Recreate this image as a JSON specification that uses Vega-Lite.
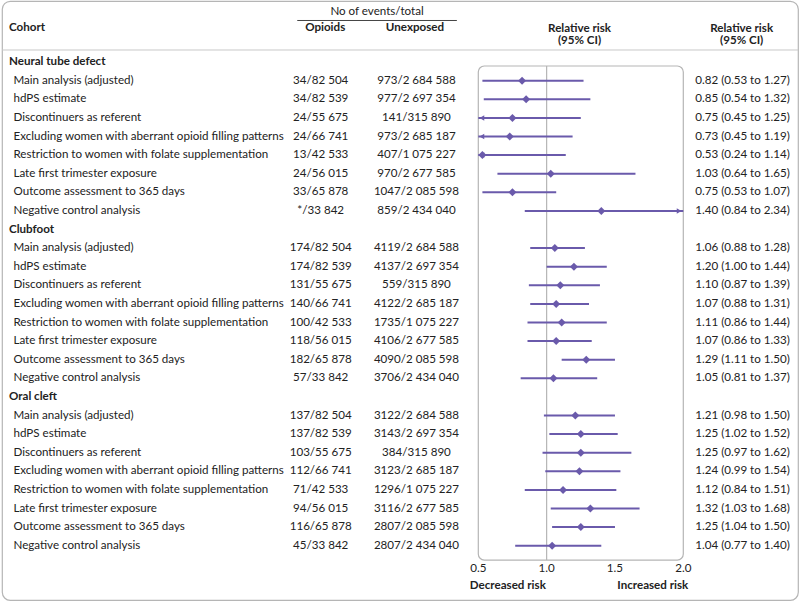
{
  "$schema": "https://vega.github.io/schema/vega-lite/v6.json",
  "width": 800,
  "height": 601,
  "autosize": {"type": "fit", "contains": "padding"},
  "padding": 1,
  "background": "white",
  "config": {
    "view": {"stroke": "#b5b5b5", "strokeWidth": 1.2, "cornerRadius": 8},
    "font": "Lato",
    "text": {"fontSize": 11.6, "color": "#222222"}
  },
  "datasets": {
    "rows": [
      {"row": 0, "kind": "group", "label": "Neural tube defect"},
      {"row": 1, "kind": "item", "label": "Main analysis (adjusted)", "opioids": "34/82 504", "unexposed": "973/2 684 588", "rr": 0.82, "lo": 0.53, "hi": 1.27, "rrtext": "0.82 (0.53 to 1.27)"},
      {"row": 2, "kind": "item", "label": "hdPS estimate", "opioids": "34/82 539", "unexposed": "977/2 697 354", "rr": 0.85, "lo": 0.54, "hi": 1.32, "rrtext": "0.85 (0.54 to 1.32)"},
      {"row": 3, "kind": "item", "label": "Discontinuers as referent", "opioids": "24/55 675", "unexposed": "141/315 890", "rr": 0.75, "lo": 0.45, "hi": 1.25, "rrtext": "0.75 (0.45 to 1.25)"},
      {"row": 4, "kind": "item", "label": "Excluding women with aberrant opioid filling patterns", "opioids": "24/66 741", "unexposed": "973/2 685 187", "rr": 0.73, "lo": 0.45, "hi": 1.19, "rrtext": "0.73 (0.45 to 1.19)"},
      {"row": 5, "kind": "item", "label": "Restriction to women with folate supplementation", "opioids": "13/42 533", "unexposed": "407/1 075 227", "rr": 0.53, "lo": 0.24, "hi": 1.14, "rrtext": "0.53 (0.24 to 1.14)"},
      {"row": 6, "kind": "item", "label": "Late first trimester exposure", "opioids": "24/56 015", "unexposed": "970/2 677 585", "rr": 1.03, "lo": 0.64, "hi": 1.65, "rrtext": "1.03 (0.64 to 1.65)"},
      {"row": 7, "kind": "item", "label": "Outcome assessment to 365 days", "opioids": "33/65 878", "unexposed": "1047/2 085 598", "rr": 0.75, "lo": 0.53, "hi": 1.07, "rrtext": "0.75 (0.53 to 1.07)"},
      {"row": 8, "kind": "item", "label": "Negative control analysis", "opioids": "*/33 842", "unexposed": "859/2 434 040", "rr": 1.40, "lo": 0.84, "hi": 2.34, "rrtext": "1.40 (0.84 to 2.34)"},
      {"row": 9, "kind": "group", "label": "Clubfoot"},
      {"row": 10, "kind": "item", "label": "Main analysis (adjusted)", "opioids": "174/82 504", "unexposed": "4119/2 684 588", "rr": 1.06, "lo": 0.88, "hi": 1.28, "rrtext": "1.06 (0.88 to 1.28)"},
      {"row": 11, "kind": "item", "label": "hdPS estimate", "opioids": "174/82 539", "unexposed": "4137/2 697 354", "rr": 1.20, "lo": 1.00, "hi": 1.44, "rrtext": "1.20 (1.00 to 1.44)"},
      {"row": 12, "kind": "item", "label": "Discontinuers as referent", "opioids": "131/55 675", "unexposed": "559/315 890", "rr": 1.10, "lo": 0.87, "hi": 1.39, "rrtext": "1.10 (0.87 to 1.39)"},
      {"row": 13, "kind": "item", "label": "Excluding women with aberrant opioid filling patterns", "opioids": "140/66 741", "unexposed": "4122/2 685 187", "rr": 1.07, "lo": 0.88, "hi": 1.31, "rrtext": "1.07 (0.88 to 1.31)"},
      {"row": 14, "kind": "item", "label": "Restriction to women with folate supplementation", "opioids": "100/42 533", "unexposed": "1735/1 075 227", "rr": 1.11, "lo": 0.86, "hi": 1.44, "rrtext": "1.11 (0.86 to 1.44)"},
      {"row": 15, "kind": "item", "label": "Late first trimester exposure", "opioids": "118/56 015", "unexposed": "4106/2 677 585", "rr": 1.07, "lo": 0.86, "hi": 1.33, "rrtext": "1.07 (0.86 to 1.33)"},
      {"row": 16, "kind": "item", "label": "Outcome assessment to 365 days", "opioids": "182/65 878", "unexposed": "4090/2 085 598", "rr": 1.29, "lo": 1.11, "hi": 1.50, "rrtext": "1.29 (1.11 to 1.50)"},
      {"row": 17, "kind": "item", "label": "Negative control analysis", "opioids": "57/33 842", "unexposed": "3706/2 434 040", "rr": 1.05, "lo": 0.81, "hi": 1.37, "rrtext": "1.05 (0.81 to 1.37)"},
      {"row": 18, "kind": "group", "label": "Oral cleft"},
      {"row": 19, "kind": "item", "label": "Main analysis (adjusted)", "opioids": "137/82 504", "unexposed": "3122/2 684 588", "rr": 1.21, "lo": 0.98, "hi": 1.50, "rrtext": "1.21 (0.98 to 1.50)"},
      {"row": 20, "kind": "item", "label": "hdPS estimate", "opioids": "137/82 539", "unexposed": "3143/2 697 354", "rr": 1.25, "lo": 1.02, "hi": 1.52, "rrtext": "1.25 (1.02 to 1.52)"},
      {"row": 21, "kind": "item", "label": "Discontinuers as referent", "opioids": "103/55 675", "unexposed": "384/315 890", "rr": 1.25, "lo": 0.97, "hi": 1.62, "rrtext": "1.25 (0.97 to 1.62)"},
      {"row": 22, "kind": "item", "label": "Excluding women with aberrant opioid filling patterns", "opioids": "112/66 741", "unexposed": "3123/2 685 187", "rr": 1.24, "lo": 0.99, "hi": 1.54, "rrtext": "1.24 (0.99 to 1.54)"},
      {"row": 23, "kind": "item", "label": "Restriction to women with folate supplementation", "opioids": "71/42 533", "unexposed": "1296/1 075 227", "rr": 1.12, "lo": 0.84, "hi": 1.51, "rrtext": "1.12 (0.84 to 1.51)"},
      {"row": 24, "kind": "item", "label": "Late first trimester exposure", "opioids": "94/56 015", "unexposed": "3116/2 677 585", "rr": 1.32, "lo": 1.03, "hi": 1.68, "rrtext": "1.32 (1.03 to 1.68)"},
      {"row": 25, "kind": "item", "label": "Outcome assessment to 365 days", "opioids": "116/65 878", "unexposed": "2807/2 085 598", "rr": 1.25, "lo": 1.04, "hi": 1.50, "rrtext": "1.25 (1.04 to 1.50)"},
      {"row": 26, "kind": "item", "label": "Negative control analysis", "opioids": "45/33 842", "unexposed": "2807/2 434 040", "rr": 1.04, "lo": 0.77, "hi": 1.40, "rrtext": "1.04 (0.77 to 1.40)"}
    ],
    "one": [{}],
    "ticks": [{"t": 0.5}, {"t": 1.0}, {"t": 1.5}, {"t": 2.0}]
  },
  "data": {"name": "rows"},
  "resolve": {"scale": {"x": "independent"}},
  "layer": [
    {
      "layer": [
        {
          "data": {"name": "one"},
          "mark": {"type": "rule", "color": "#c8c8c8", "strokeWidth": 1},
          "encoding": {
            "y": {"datum": -0.651, "type": "quantitative", "scale": {"domain": [-3.285, 28.919], "reverse": true, "nice": false, "zero": false}, "axis": null}
          }
        },
        {
          "data": {"name": "one"},
          "mark": {"type": "rule", "color": "#444444", "strokeWidth": 1},
          "encoding": {
            "x": {"datum": 296, "type": "quantitative", "scale": {"domain": [0, 798], "nice": false, "zero": false}, "axis": null},
            "x2": {"datum": 456},
            "y": {"datum": -2.237, "type": "quantitative", "axis": null}
          }
        },
        {
          "data": {"name": "one"},
          "mark": {"type": "text", "align": "center"},
          "encoding": {
            "x": {"datum": 376, "type": "quantitative", "axis": null},
            "y": {"datum": -2.694, "type": "quantitative", "axis": null},
            "text": {"value": "No of events/total"}
          }
        },
        {
          "data": {"name": "one"},
          "mark": {"type": "text", "align": "left", "fontWeight": "bold"},
          "encoding": {
            "x": {"datum": 7, "type": "quantitative", "axis": null},
            "y": {"datum": -1.833, "type": "quantitative", "axis": null},
            "text": {"value": "Cohort"}
          }
        },
        {
          "data": {"name": "one"},
          "mark": {"type": "text", "align": "center", "fontWeight": "bold"},
          "encoding": {
            "x": {"datum": 324, "type": "quantitative", "axis": null},
            "y": {"datum": -1.833, "type": "quantitative", "axis": null},
            "text": {"value": "Opioids"}
          }
        },
        {
          "data": {"name": "one"},
          "mark": {"type": "text", "align": "center", "fontWeight": "bold"},
          "encoding": {
            "x": {"datum": 414, "type": "quantitative", "axis": null},
            "y": {"datum": -1.833, "type": "quantitative", "axis": null},
            "text": {"value": "Unexposed"}
          }
        },
        {
          "data": {"name": "one"},
          "mark": {"type": "text", "align": "center", "fontWeight": "bold", "lineHeight": 12.6},
          "encoding": {
            "x": {"datum": 579, "type": "quantitative", "axis": null},
            "y": {"datum": -1.8, "type": "quantitative", "axis": null},
            "text": {"value": ["Relative risk", "(95% CI)"]}
          }
        },
        {
          "data": {"name": "one"},
          "mark": {"type": "text", "align": "center", "fontWeight": "bold", "lineHeight": 12.6},
          "encoding": {
            "x": {"datum": 741.5, "type": "quantitative", "axis": null},
            "y": {"datum": -1.8, "type": "quantitative", "axis": null},
            "text": {"value": ["Relative risk", "(95% CI)"]}
          }
        },
        {
          "transform": [{"filter": "datum.kind == 'group'"}],
          "mark": {"type": "text", "align": "left", "fontWeight": "bold"},
          "encoding": {
            "x": {"datum": 7, "type": "quantitative", "axis": null},
            "y": {"field": "row", "type": "quantitative", "axis": null},
            "text": {"field": "label"}
          }
        },
        {
          "transform": [{"filter": "datum.kind == 'item'"}],
          "mark": {"type": "text", "align": "left"},
          "encoding": {
            "x": {"datum": 11.5, "type": "quantitative", "axis": null},
            "y": {"field": "row", "type": "quantitative", "axis": null},
            "text": {"field": "label"}
          }
        },
        {
          "transform": [{"filter": "datum.kind == 'item'"}],
          "mark": {"type": "text", "align": "center"},
          "encoding": {
            "x": {"datum": 319.5, "type": "quantitative", "axis": null},
            "y": {"field": "row", "type": "quantitative", "axis": null},
            "text": {"field": "opioids"}
          }
        },
        {
          "transform": [{"filter": "datum.kind == 'item'"}],
          "mark": {"type": "text", "align": "center"},
          "encoding": {
            "x": {"datum": 415.5, "type": "quantitative", "axis": null},
            "y": {"field": "row", "type": "quantitative", "axis": null},
            "text": {"field": "unexposed"}
          }
        },
        {
          "transform": [{"filter": "datum.kind == 'item'"}],
          "mark": {"type": "text", "align": "left"},
          "encoding": {
            "x": {"datum": 695, "type": "quantitative", "axis": null},
            "y": {"field": "row", "type": "quantitative", "axis": null},
            "text": {"field": "rrtext"}
          }
        },
        {
          "data": {"name": "one"},
          "mark": {"type": "text", "align": "left", "fontWeight": "bold"},
          "encoding": {
            "x": {"datum": 469, "type": "quantitative", "axis": null},
            "y": {"datum": 28.14, "type": "quantitative", "axis": null},
            "text": {"value": "Decreased risk"}
          }
        },
        {
          "data": {"name": "one"},
          "mark": {"type": "text", "align": "right", "fontWeight": "bold"},
          "encoding": {
            "x": {"datum": 688, "type": "quantitative", "axis": null},
            "y": {"datum": 28.14, "type": "quantitative", "axis": null},
            "text": {"value": "Increased risk"}
          }
        }
      ]
    },
    {
      "layer": [
        {
          "data": {"name": "one"},
          "mark": {"type": "rect", "fill": null, "fillOpacity": 0, "stroke": "#b5b5b5", "strokeWidth": 1.2, "cornerRadius": 6},
          "encoding": {
            "x": {"datum": 0.5, "type": "quantitative", "scale": {"domain": [0.5, 2.0], "range": [476.3, 681.3], "clamp": true, "nice": false, "zero": false}, "axis": null},
            "x2": {"datum": 2.0},
            "y": {"datum": 0.21, "type": "quantitative", "axis": null},
            "y2": {"datum": 26.77}
          }
        },
        {
          "data": {"name": "one"},
          "mark": {"type": "rule", "color": "#b5b5b5", "strokeWidth": 1.2},
          "encoding": {
            "x": {"datum": 1.0, "type": "quantitative", "axis": null},
            "y": {"datum": 0.21, "type": "quantitative", "axis": null},
            "y2": {"datum": 26.77}
          }
        },
        {
          "transform": [{"filter": "datum.kind == 'item'"}],
          "mark": {"type": "rule", "color": "#6a5aab", "strokeWidth": 2},
          "encoding": {
            "x": {"field": "lo", "type": "quantitative", "axis": null},
            "x2": {"field": "hi"},
            "y": {"field": "row", "type": "quantitative", "axis": null}
          }
        },
        {
          "transform": [{"filter": "datum.kind == 'item' && datum.lo < 0.5"}],
          "mark": {"type": "point", "shape": "triangle-left", "filled": true, "size": 30, "color": "#6a5aab", "opacity": 1, "xOffset": 3.6},
          "encoding": {
            "x": {"field": "lo", "type": "quantitative", "axis": null},
            "y": {"field": "row", "type": "quantitative", "axis": null}
          }
        },
        {
          "transform": [{"filter": "datum.kind == 'item' && datum.hi > 2"}],
          "mark": {"type": "point", "shape": "triangle-right", "filled": true, "size": 30, "color": "#6a5aab", "opacity": 1, "xOffset": -4.2},
          "encoding": {
            "x": {"field": "hi", "type": "quantitative", "axis": null},
            "y": {"field": "row", "type": "quantitative", "axis": null}
          }
        },
        {
          "transform": [{"filter": "datum.kind == 'item'"}],
          "mark": {"type": "point", "shape": "diamond", "filled": true, "size": 64, "color": "#6a5aab", "opacity": 1},
          "encoding": {
            "x": {"field": "rr", "type": "quantitative", "axis": null},
            "y": {"field": "row", "type": "quantitative", "axis": null}
          }
        },
        {
          "data": {"name": "ticks"},
          "mark": {"type": "text", "align": "center"},
          "encoding": {
            "x": {"field": "t", "type": "quantitative", "axis": null},
            "y": {"datum": 27.25, "type": "quantitative", "axis": null},
            "text": {"field": "t", "format": ".1f"}
          }
        }
      ]
    }
  ]
}
